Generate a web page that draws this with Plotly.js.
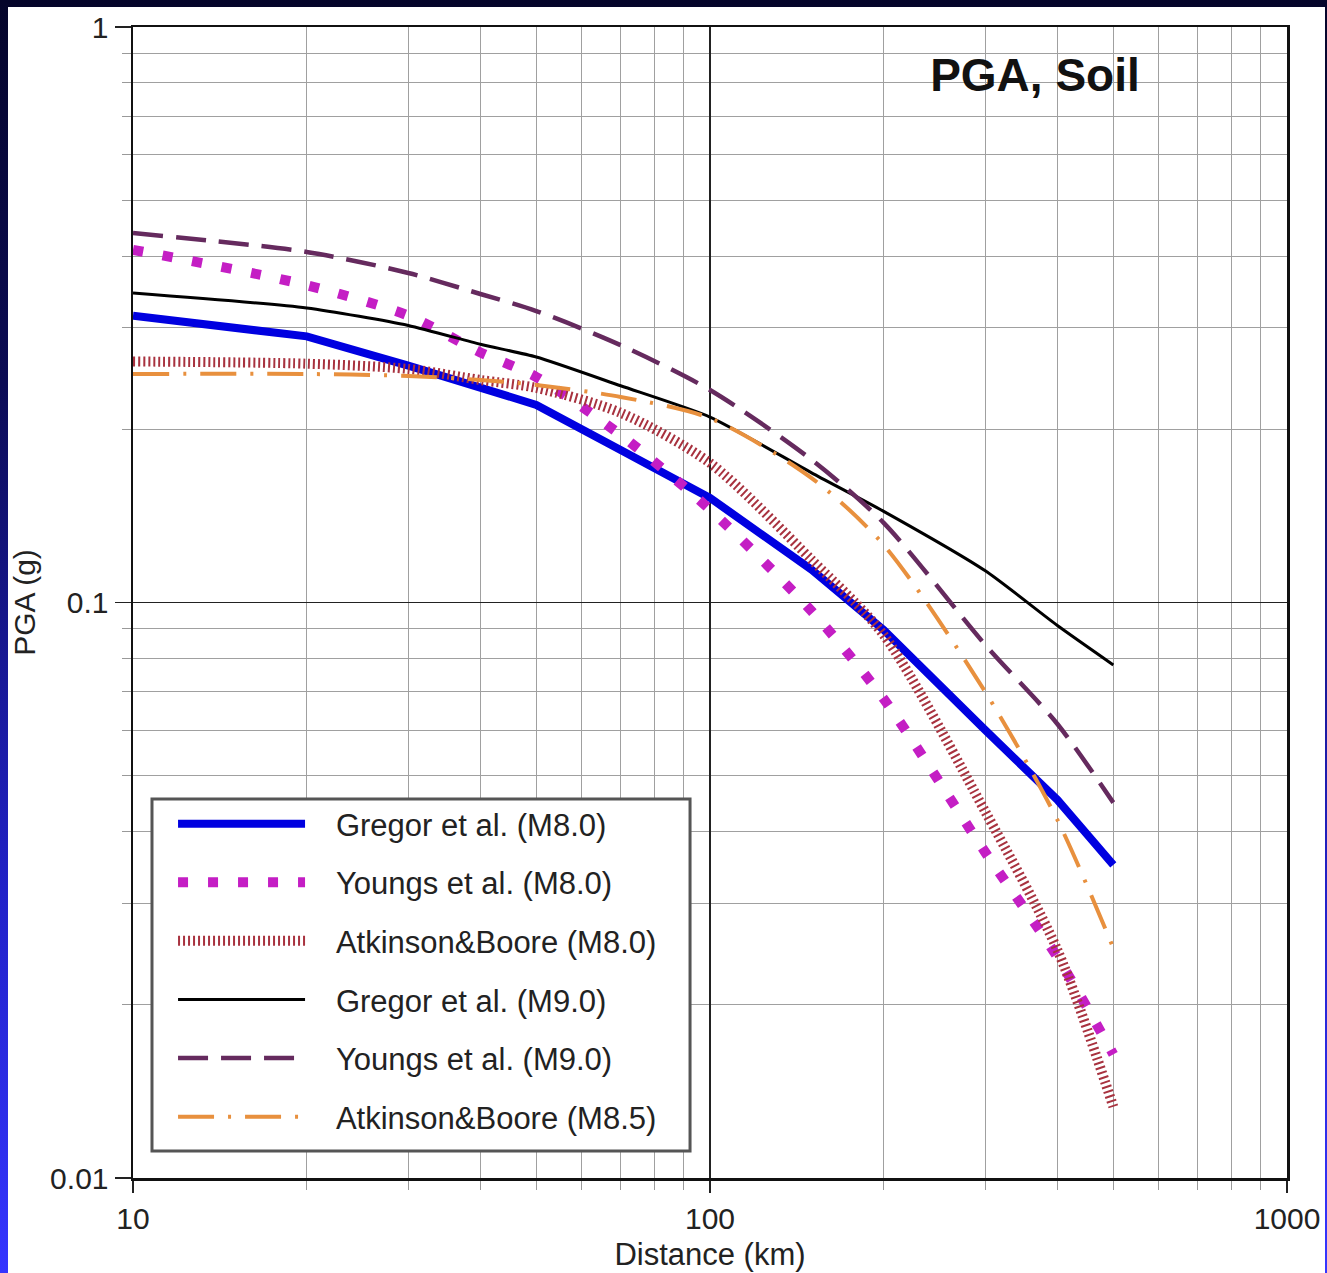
<!DOCTYPE html>
<html>
<head>
<meta charset="utf-8">
<script src="https://cdn.plot.ly/plotly-3.0.1.min.js"></script>
<style>
  html, body { margin: 0; padding: 0; width: 1327px; height: 1273px; overflow: hidden;
    background: linear-gradient(to bottom, #05052a 0%, #0c0c55 30%, #2222c8 70%, #3535ff 100%); }
  #chart { position: absolute; left: 8px; top: 7px; width: 1317px; height: 1266px; background: #fff; }
</style>
</head>
<body>
<div id="chart"></div>
<script>
// Distances (km) at which the curves were read
const distance = [10, 20, 30, 40, 50, 70, 100, 150, 200, 300, 400, 500];

// PGA (g) per model
const gregorM80   = [0.315, 0.290, 0.258, 0.236, 0.2205, 0.184, 0.152, 0.114, 0.0896, 0.060, 0.0454, 0.035];
const youngsM80   = [0.410, 0.356, 0.315, 0.272, 0.2465, 0.1955, 0.145, 0.0966, 0.068, 0.0368, 0.0242, 0.0164];
const atkinsonM80 = [0.2623, 0.260, 0.2546, 0.2436, 0.236, 0.2136, 0.1747, 0.1186, 0.0878, 0.0433, 0.0249, 0.0133];
const gregorM90   = [0.345, 0.325, 0.303, 0.281, 0.267, 0.238, 0.210, 0.168, 0.144, 0.1135, 0.0912, 0.0779];
const youngsM90   = [0.4385, 0.4066, 0.3737, 0.3436, 0.321, 0.280, 0.234, 0.177, 0.1375, 0.0844, 0.0615, 0.0449];
const atkinsonM85 = [0.2495, 0.2495, 0.2476, 0.2436, 0.2388, 0.2276, 0.209, 0.1645, 0.1259, 0.0699, 0.0419, 0.0251];

const seriesNames = ['Gregor et al. (M8.0)', 'Youngs et al. (M8.0)', 'Atkinson&Boore (M8.0)',
                     'Gregor et al. (M9.0)', 'Youngs et al. (M9.0)', 'Atkinson&Boore (M8.5)'];
const seriesValues = [gregorM80, youngsM80, atkinsonM80, gregorM90, youngsM90, atkinsonM85];

const xTickVals = [10, 100, 1000];
const xTickText = ['10', '100', '1000'];
const yTickVals = [0.01, 0.1, 1];
const yTickText = ['0.01', '0.1', '1'];

const lineStyles = [
  {color: '#0000e0', width: 8, dash: 'solid', shape: 'linear'},
  {color: '#c41ec4', width: 10, dash: '10px,20px', shape: 'spline', smoothing: 0.8},
  {color: '#a8323f', width: 10, dash: '2px,3px', shape: 'spline', smoothing: 0.8},
  {color: '#000000', width: 3, dash: 'solid', shape: 'spline', smoothing: 0.6},
  {color: '#652a5e', width: 4.5, dash: '30px,13px', shape: 'spline', smoothing: 0.8},
  {color: '#e8903e', width: 4, dash: '36px,14px,3px,14px', shape: 'spline', smoothing: 0.8}
];

const pad = '\u00A0\u00A0\u00A0';
const traces = seriesNames.map((name, i) => ({
  x: distance,
  y: seriesValues[i],
  name: pad + name,
  type: 'scatter',
  mode: 'lines',
  legendgroup: 'g' + i,
  line: lineStyles[i]
}));

const fontFam = '"Liberation Sans", Arial, Helvetica, sans-serif';

const axisCommon = {
  type: 'log',
  showline: true,
  linecolor: '#111',
  linewidth: 2.5,
  mirror: true,
  ticks: 'outside',
  ticklen: 16,
  tickwidth: 1.5,
  tickcolor: '#222',
  showgrid: true,
  gridcolor: '#222',
  gridwidth: 1.5,
  zeroline: false,
  tickfont: {family: fontFam, size: 30, color: '#222'},
  minor: {dtick: 'D1', showgrid: true, gridcolor: '#a0a0a0', gridwidth: 1,
          ticks: 'outside', ticklen: 9, tickcolor: '#999', tickwidth: 1}
};

const layout = {
  width: 1317,
  height: 1266,
  margin: {l: 125, r: 38, t: 20, b: 95},
  paper_bgcolor: '#ffffff',
  plot_bgcolor: '#ffffff',
  font: {family: fontFam, color: '#222'},
  title: {
    text: '<b>PGA, Soil</b>',
    font: {family: fontFam, size: 46, color: '#111'},
    xref: 'paper', x: 0.7816, xanchor: 'center',
    yref: 'paper', y: 0.958, yanchor: 'middle'
  },
  xaxis: Object.assign({}, axisCommon, {
    range: [1, 3],
    ticklen: 12,
    tickvals: xTickVals, ticktext: xTickText,
    title: {text: 'Distance (km)', font: {family: fontFam, size: 31, color: '#222'}, standoff: 10}
  }),
  yaxis: Object.assign({}, axisCommon, {
    range: [-2, 0],
    tickvals: yTickVals, ticktext: yTickText,
    title: {text: 'PGA (g)', font: {family: fontFam, size: 30, color: '#222'}, standoff: 10}
  }),
  shapes: [{
    type: 'rect', xref: 'paper', yref: 'paper', layer: 'above',
    x0: 0.01646, x1: 0.4827, y0: 0.02346, y1: 0.3293,
    fillcolor: '#ffffff', line: {color: '#555555', width: 3}
  }],
  showlegend: true,
  legend: {
    x: 0.0347, y: 0.331, xanchor: 'left', yanchor: 'top',
    bgcolor: 'rgba(0,0,0,0)',
    borderwidth: 0,
    font: {family: fontFam, size: 31, color: '#222'},
    itemwidth: 127,
    traceorder: 'grouped',
    tracegroupgap: 15.3
  }
};

Plotly.newPlot('chart', traces, layout, {displayModeBar: false, staticPlot: true});
</script>
</body>
</html>
